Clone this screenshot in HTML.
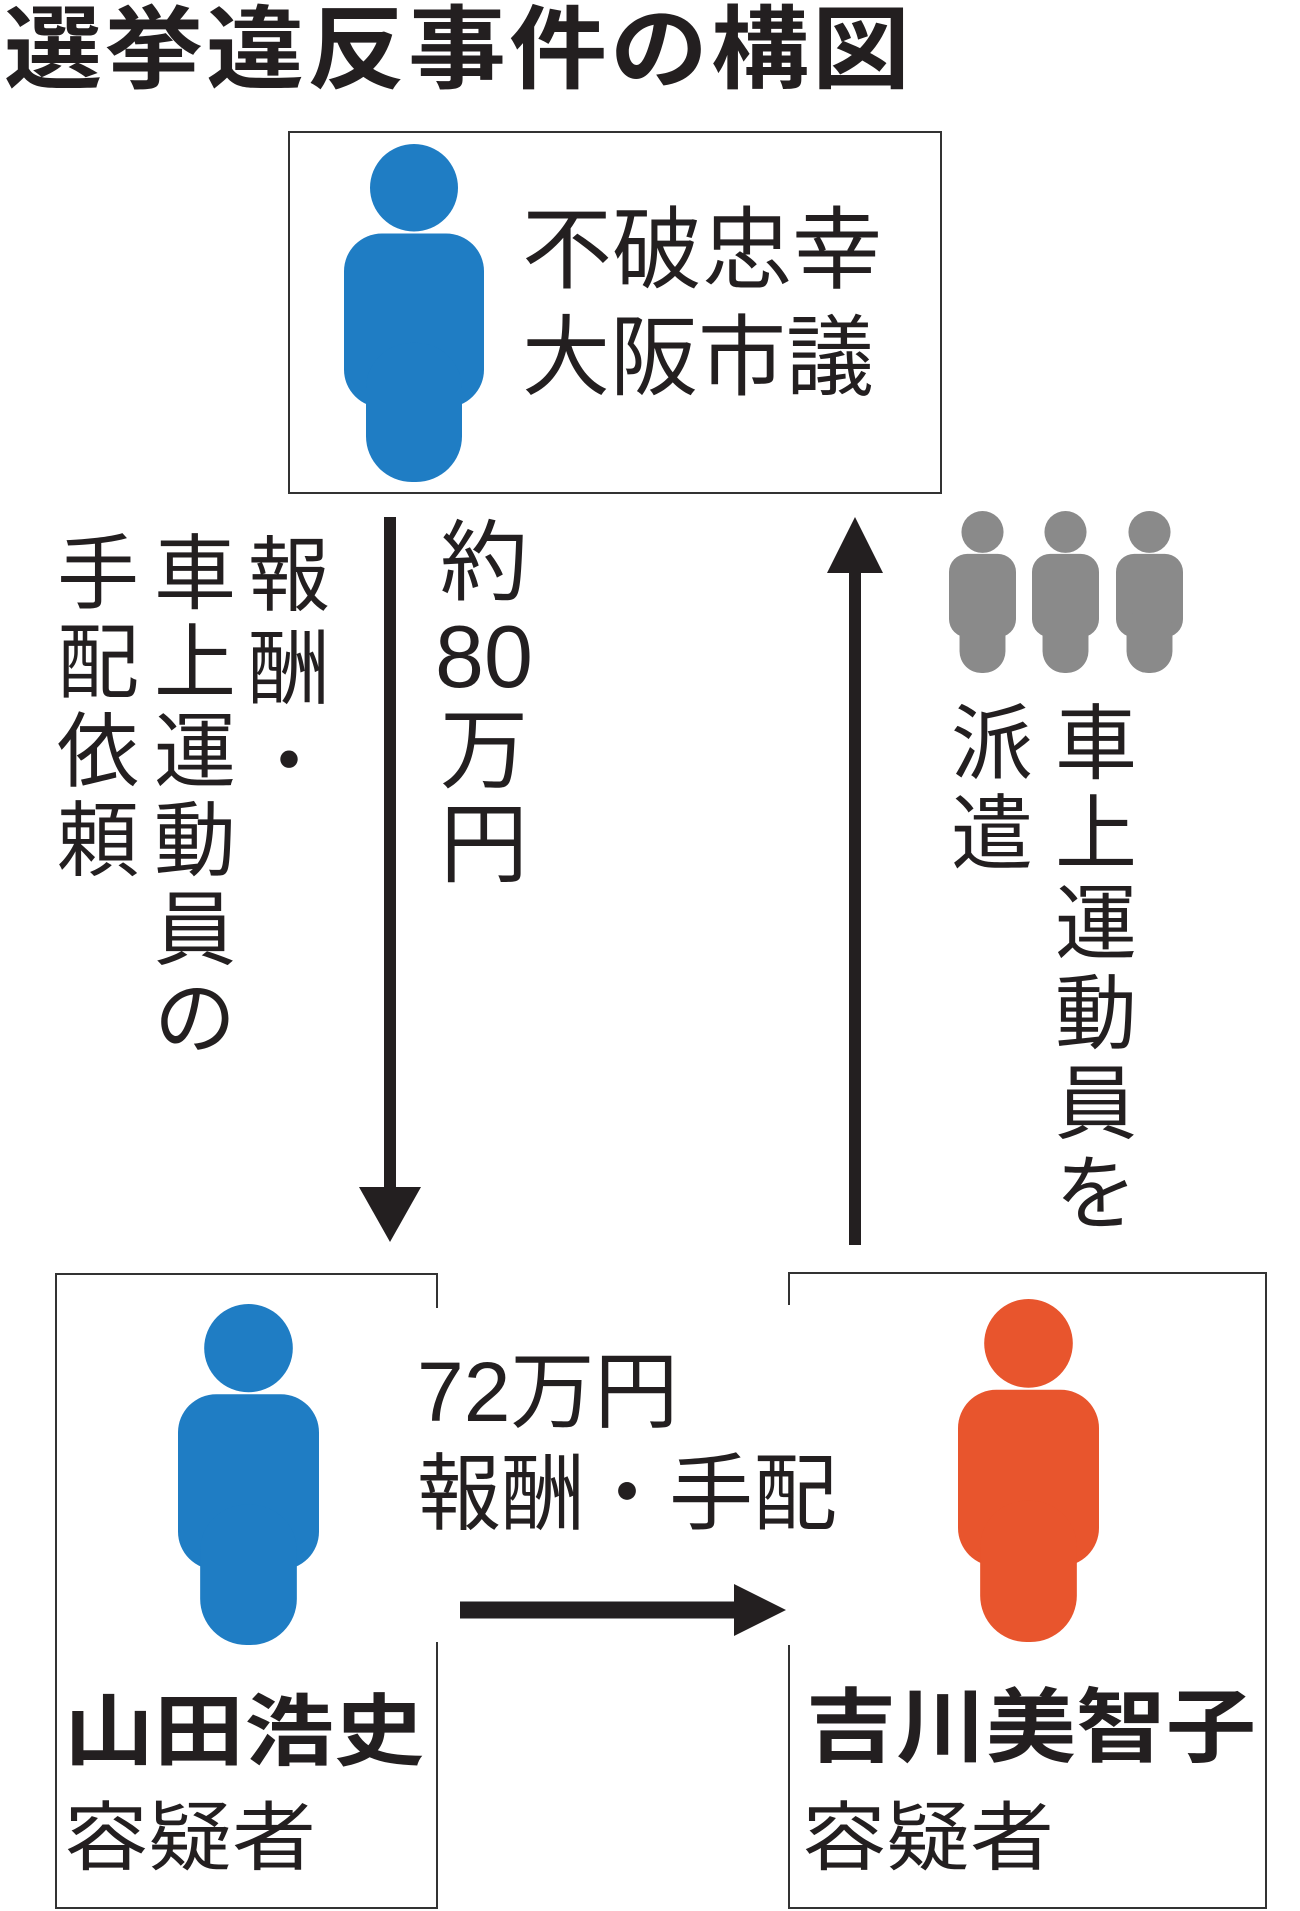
<!DOCTYPE html>
<html><head><meta charset="utf-8"><style>
html,body{margin:0;padding:0;background:#fff;}
body{width:1300px;height:1911px;position:relative;overflow:hidden;font-family:"Liberation Sans","Noto Sans CJK JP",sans-serif;color:#231f20;}
.a{position:absolute;white-space:nowrap;line-height:1;}
.v{position:absolute;text-align:center;}
.box{position:absolute;border:2px solid #333;box-sizing:border-box;}
svg{position:absolute;}
</style></head><body>

<div class="a" style="left:4px;top:4px;font-size:98px;font-weight:bold;letter-spacing:3px;transform:scaleY(0.93);transform-origin:top left;">選挙違反事件の構図</div>

<div class="box" style="left:288px;top:131px;width:654px;height:363px;"></div>
<svg style="left:344px;top:144px" width="140" height="338" viewBox="0 0 140 340" preserveAspectRatio="none"><g fill="#1f7dc4"><circle cx="70" cy="44" r="44"/><rect x="0" y="90" width="140" height="175" rx="38"/><rect x="22" y="200" width="96" height="140" rx="46"/></g></svg>
<div class="a" style="left:522px;top:206px;font-size:90px;">不破忠幸</div>
<div class="a" style="left:522px;top:314px;font-size:88px;">大阪市議</div>

<svg style="left:0;top:0" width="1300" height="1911">
<line x1="390" y1="517" x2="390" y2="1195" stroke="#231f20" stroke-width="12"/>
<polygon points="359,1187 421,1187 390,1242" fill="#231f20"/>
<line x1="855" y1="565" x2="855" y2="1245" stroke="#231f20" stroke-width="12"/>
<polygon points="827,573 883,573 855,517" fill="#231f20"/>
<line x1="460" y1="1610" x2="740" y2="1610" stroke="#231f20" stroke-width="17"/>
<polygon points="734,1584 734,1636 786,1610" fill="#231f20"/>
</svg>

<svg style="left:949px;top:511px" width="67" height="162" viewBox="0 0 140 340" preserveAspectRatio="none"><g fill="#8a8a8a"><circle cx="70" cy="44" r="44"/><rect x="0" y="90" width="140" height="175" rx="38"/><rect x="22" y="200" width="96" height="140" rx="46"/></g></svg>
<svg style="left:1032px;top:511px" width="67" height="162" viewBox="0 0 140 340" preserveAspectRatio="none"><g fill="#8a8a8a"><circle cx="70" cy="44" r="44"/><rect x="0" y="90" width="140" height="175" rx="38"/><rect x="22" y="200" width="96" height="140" rx="46"/></g></svg>
<svg style="left:1116px;top:511px" width="67" height="162" viewBox="0 0 140 340" preserveAspectRatio="none"><g fill="#8a8a8a"><circle cx="70" cy="44" r="44"/><rect x="0" y="90" width="140" height="175" rx="38"/><rect x="22" y="200" width="96" height="140" rx="46"/></g></svg>

<div class="v" style="left:243px;top:530px;width:92px;font-size:82px;line-height:93px;">報<br>酬<br>・</div>
<div class="v" style="left:152px;top:530px;width:86px;font-size:82px;line-height:89px;">車<br>上<br>運<br>動<br>員<br>の</div>
<div class="v" style="left:55px;top:530px;width:86px;font-size:82px;line-height:89px;">手<br>配<br>依<br>頼</div>
<div class="v" style="left:434px;top:516px;width:100px;font-size:88px;line-height:94px;">約<br>80<br>万<br>円</div>
<div class="v" style="left:949px;top:700px;width:86px;font-size:82px;line-height:90px;">派<br>遣</div>
<div class="v" style="left:1053px;top:700px;width:86px;font-size:82px;line-height:90px;">車<br>上<br>運<br>動<br>員<br>を</div>

<svg style="left:0;top:0" width="1300" height="1911" fill="none" stroke="#333" stroke-width="2">
<polyline points="437,1308 437,1274 56,1274 56,1908 437,1908 437,1642"/>
<polyline points="789,1305 789,1273 1266,1273 1266,1908 789,1908 789,1645"/>
</svg>
<svg style="left:178px;top:1304px" width="141" height="341" viewBox="0 0 140 340" preserveAspectRatio="none"><g fill="#1f7dc4"><circle cx="70" cy="44" r="44"/><rect x="0" y="90" width="140" height="175" rx="38"/><rect x="22" y="200" width="96" height="140" rx="46"/></g></svg>
<svg style="left:958px;top:1299px" width="141" height="343" viewBox="0 0 140 340" preserveAspectRatio="none"><g fill="#e8552d"><circle cx="70" cy="44" r="44"/><rect x="0" y="90" width="140" height="175" rx="38"/><rect x="22" y="200" width="96" height="140" rx="46"/></g></svg>

<div class="a" style="left:417px;top:1350px;font-size:84px;">72万円</div>
<div class="a" style="left:417px;top:1452px;font-size:84px;">報酬・手配</div>

<div class="a" style="left:64px;top:1693px;font-size:90px;font-weight:bold;transform:scaleY(0.88);transform-origin:top left;">山田浩史</div>
<div class="a" style="left:64px;top:1800px;font-size:84px;transform:scaleY(0.9);transform-origin:top left;">容疑者</div>
<div class="a" style="left:806px;top:1688px;font-size:90px;font-weight:bold;transform:scaleY(0.9);transform-origin:top left;">吉川美智子</div>
<div class="a" style="left:802px;top:1800px;font-size:84px;transform:scaleY(0.9);transform-origin:top left;">容疑者</div>

</body></html>
